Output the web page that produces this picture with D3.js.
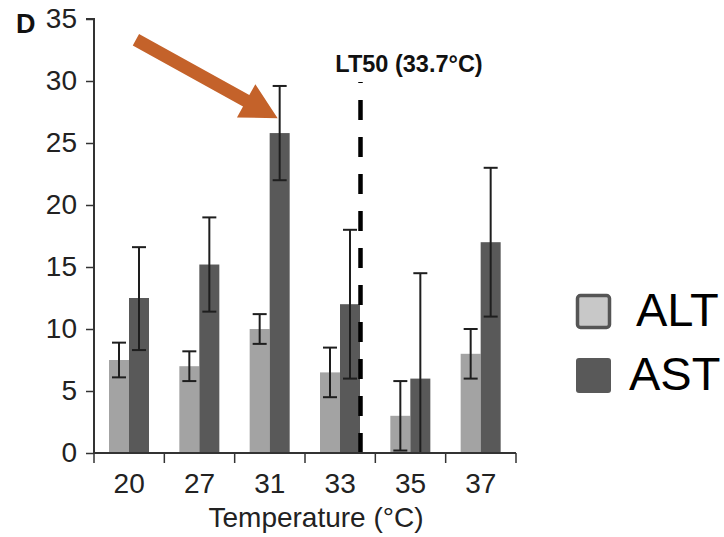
<!DOCTYPE html>
<html>
<head>
<meta charset="utf-8">
<script src="https://cdn.jsdelivr.net/npm/d3@7"></script>
<style>
  body { margin: 0; background: #fff; }
  svg { display: block; font-family: "Liberation Sans", Arial, sans-serif; }
</style>
</head>
<body>
<svg id="chart" width="724" height="537"></svg>
<script>
// ── Data ──────────────────────────────────────────────────────────────────
const temps = ['20', '27', '31', '33', '35', '37'];
const series = ['ALT', 'AST'];
const altMean = [7.5, 7.0, 10.0, 6.5, 3.0, 8.0];
const altLow  = [6.1, 5.8, 8.8, 4.5, 0.2, 6.0];
const altHigh = [8.9, 8.2, 11.2, 8.5, 5.8, 10.0];
const astMean = [12.5, 15.2, 25.8, 12.0, 6.0, 17.0];
const astLow  = [8.3, 11.4, 22.0, 6.0, 0.0, 11.0];
const astHigh = [16.6, 19.0, 29.6, 18.0, 14.5, 23.0];
const yTicks = [0, 5, 10, 15, 20, 25, 30, 35];
const lt50 = { temp: '33', label: 'LT50 (33.7°C)', top: 30 };
const arrowTarget = { temp: '31', series: 'AST', value: 27 };

const colors = { ALT: '#a3a3a3', AST: '#595959' };
const font = '"Liberation Sans", Arial, sans-serif';

// ── Layout ────────────────────────────────────────────────────────────────
const svg = d3.select('#chart');
const mLeft = 94, mRight = 516, mTop = 19, mBottom = 453;

const x0 = d3.scaleBand().domain(temps).range([mLeft, mRight]);
const x1 = d3.scaleBand().domain(series).range([15, 55]);
const y = d3.scaleLinear().domain([0, 35]).range([mBottom, mTop]);

const rows = [];
temps.forEach((t, i) => {
  rows.push({ t, s: 'ALT', v: altMean[i], lo: altLow[i], hi: altHigh[i] });
  rows.push({ t, s: 'AST', v: astMean[i], lo: astLow[i], hi: astHigh[i] });
});

// ── Bars ──────────────────────────────────────────────────────────────────
svg.append('g').selectAll('rect')
  .data(rows)
  .join('rect')
  .attr('x', d => x0(d.t) + x1(d.s))
  .attr('y', d => y(d.v))
  .attr('width', x1.bandwidth())
  .attr('height', d => y(0) - y(d.v))
  .attr('fill', d => colors[d.s]);

// ── Error bars ────────────────────────────────────────────────────────────
const eb = svg.append('g').attr('stroke', '#1e1e1e').attr('stroke-width', 2);
const cx = d => x0(d.t) + x1(d.s) + x1.bandwidth() / 2;
eb.selectAll('.stem').data(rows).join('line')
  .attr('x1', cx).attr('x2', cx)
  .attr('y1', d => y(d.lo)).attr('y2', d => y(d.hi));
eb.selectAll('.capTop').data(rows).join('line')
  .attr('x1', d => cx(d) - 7).attr('x2', d => cx(d) + 7)
  .attr('y1', d => y(d.hi)).attr('y2', d => y(d.hi));
eb.selectAll('.capBot').data(rows).join('line')
  .attr('x1', d => cx(d) - 7).attr('x2', d => cx(d) + 7)
  .attr('y1', d => y(d.lo)).attr('y2', d => y(d.lo));

// ── LT50 line ─────────────────────────────────────────────────────────────
const ltX = x0(lt50.temp) + x1('AST') + x1.bandwidth() + 0.5;
svg.append('line')
  .attr('x1', ltX).attr('x2', ltX)
  .attr('y1', y(0)).attr('y2', y(lt50.top) + 1)
  .attr('stroke', '#000')
  .attr('stroke-width', 4.5)
  .attr('stroke-dasharray', '20,17');
svg.append('text')
  .attr('x', 409).attr('y', 72)
  .attr('text-anchor', 'middle')
  .attr('font-size', 23.5).attr('font-weight', 'bold')
  .attr('fill', '#111')
  .text(lt50.label);

// ── Axes ──────────────────────────────────────────────────────────────────
const yAxis = svg.append('g')
  .attr('transform', `translate(${mLeft},0)`)
  .call(d3.axisLeft(y).tickValues(yTicks).tickSize(8).tickPadding(9));
yAxis.selectAll('text').attr('font-size', 28).attr('fill', '#222')
  .attr('font-family', font);

const xAxis = svg.append('g')
  .attr('transform', `translate(0,${mBottom})`)
  .call(d3.axisBottom(x0).tickSize(0).tickPadding(20));
xAxis.selectAll('text').attr('font-size', 28).attr('fill', '#222')
  .attr('font-family', font);
// tick marks sit on the category boundaries
xAxis.selectAll('.bound')
  .data(temps.concat(['end']))
  .join('line')
  .attr('x1', (d, i) => i < temps.length ? x0(d) : mRight)
  .attr('x2', (d, i) => i < temps.length ? x0(d) : mRight)
  .attr('y1', 0).attr('y2', 10)
  .attr('stroke', '#333')
  .attr('stroke-width', 1.5);

svg.selectAll('.domain').attr('stroke', '#333').attr('stroke-width', 2);
svg.selectAll('.tick line').attr('stroke', '#333').attr('stroke-width', 1.5);
xAxis.select('.domain').attr('d', `M${mLeft},0H${mRight}`);
yAxis.select('.domain').attr('d', `M-8,${mTop}H0V${mBottom}`);

svg.append('text')
  .attr('x', 316).attr('y', 527)
  .attr('text-anchor', 'middle')
  .attr('font-size', 28).attr('fill', '#222')
  .text('Temperature (°C)');

svg.append('text')
  .attr('x', 16).attr('y', 33)
  .attr('font-size', 27).attr('font-weight', 'bold')
  .attr('fill', '#111')
  .text('D');

// ── Arrow annotation ──────────────────────────────────────────────────────
const tipX = x0(arrowTarget.temp) + x1(arrowTarget.series) + x1.bandwidth() / 2 - 2;
const tipY = y(arrowTarget.value);
const ang = Math.atan2(78, 141);
const len = 162, headLen = 36, headW = 19, shaftW = 6.5;
const ux = Math.cos(ang), uy = Math.sin(ang), px = -uy, py = ux;
const bx = tipX - ux * headLen, by = tipY - uy * headLen;
const tx = tipX - ux * len, ty = tipY - uy * len;
const arrowPts = [
  [tx + px * shaftW, ty + py * shaftW],
  [bx + px * shaftW, by + py * shaftW],
  [bx + px * headW, by + py * headW],
  [tipX, tipY],
  [bx - px * headW, by - py * headW],
  [bx - px * shaftW, by - py * shaftW],
  [tx - px * shaftW, ty - py * shaftW]
];
svg.append('path')
  .attr('d', d3.line()(arrowPts) + 'Z')
  .attr('fill', '#c4622a');

// ── Legend ────────────────────────────────────────────────────────────────
const legend = svg.append('g');
const legY = { ALT: 294, AST: 358 };
legend.selectAll('rect').data(series).join('rect')
  .attr('x', d => d === 'ALT' ? 577.5 : 576)
  .attr('y', d => d === 'ALT' ? legY[d] + 1.5 : legY[d])
  .attr('width', d => d === 'ALT' ? 32 : 35)
  .attr('height', d => d === 'ALT' ? 32 : 35)
  .attr('rx', 3)
  .attr('fill', d => d === 'ALT' ? '#c8c8c8' : colors.AST)
  .attr('stroke', d => d === 'ALT' ? '#555' : 'none')
  .attr('stroke-width', 3.5);
legend.selectAll('text').data(series).join('text')
  .attr('x', d => d === 'ALT' ? 636 : 629)
  .attr('y', d => legY[d] + 32)
  .attr('font-size', 47)
  .attr('fill', '#000')
  .text(d => d);
</script>
</body>
</html>
